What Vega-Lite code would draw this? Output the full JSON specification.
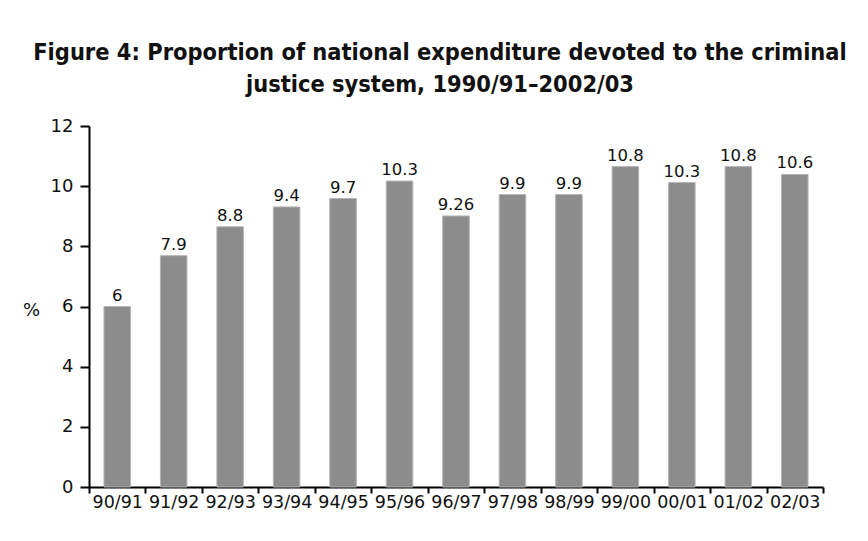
{
  "$schema": "https://vega.github.io/schema/vega-lite/v6.json",
  "autosize": "none",
  "width": 734,
  "height": 361,
  "padding": {"left": 89, "top": 126, "right": 45, "bottom": 54},
  "background": "white",
  "title": {
    "text": ["Figure 4: Proportion of national expenditure devoted to  the criminal", "justice system, 1990/91–2002/03"],
    "font": "DejaVu Sans Condensed, Liberation Sans",
    "fontSize": 23.4,
    "fontWeight": "bold",
    "color": "#111111",
    "lineHeight": 32,
    "anchor": "middle",
    "frame": "group",
    "dx": -16,
    "offset": 20
  },
  "data": {
    "values": [
      {"year": "90/91", "value": 6.0, "label": "6"},
      {"year": "91/92", "value": 7.69, "label": "7.9"},
      {"year": "92/93", "value": 8.65, "label": "8.8"},
      {"year": "93/94", "value": 9.31, "label": "9.4"},
      {"year": "94/95", "value": 9.59, "label": "9.7"},
      {"year": "95/96", "value": 10.17, "label": "10.3"},
      {"year": "96/97", "value": 9.01, "label": "9.26"},
      {"year": "97/98", "value": 9.72, "label": "9.9"},
      {"year": "98/99", "value": 9.72, "label": "9.9"},
      {"year": "99/00", "value": 10.65, "label": "10.8"},
      {"year": "00/01", "value": 10.12, "label": "10.3"},
      {"year": "01/02", "value": 10.65, "label": "10.8"},
      {"year": "02/03", "value": 10.39, "label": "10.6"}
    ]
  },
  "encoding": {
    "x": {
      "field": "year",
      "type": "nominal",
      "sort": null,
      "scale": {"paddingInner": 0, "paddingOuter": 0},
      "axis": {
        "title": null,
        "labelAngle": 0,
        "labelFont": "DejaVu Sans",
        "labelFontSize": 17.5,
        "labelColor": "#111111",
        "labelPadding": 0,
        "tickBand": "extent",
        "tickSize": 6,
        "tickWidth": 2,
        "tickColor": "#000000",
        "domainColor": "#000000",
        "domainWidth": 2
      }
    },
    "y": {
      "field": "value",
      "type": "quantitative",
      "scale": {"domain": [0, 12], "nice": false},
      "axis": {
        "values": [0, 2, 4, 6, 8, 10, 12],
        "grid": false,
        "title": "%",
        "titleAngle": 0,
        "titleFont": "DejaVu Sans",
        "titleFontSize": 18,
        "titleFontWeight": "normal",
        "titleColor": "#111111",
        "titleX": -58,
        "titleY": 184,
        "titleAlign": "center",
        "titleBaseline": "middle",
        "labelFont": "DejaVu Sans",
        "labelFontSize": 18,
        "labelColor": "#111111",
        "labelPadding": 7,
        "tickSize": 9,
        "tickWidth": 2,
        "tickColor": "#000000",
        "domainColor": "#000000",
        "domainWidth": 2
      }
    }
  },
  "layer": [
    {
      "mark": {"type": "bar", "color": "#8c8c8c", "stroke": "#b4b4b4", "strokeWidth": 1, "width": {"band": 0.47}}
    },
    {
      "mark": {"type": "text", "font": "DejaVu Sans", "fontSize": 16.5, "color": "#111111", "baseline": "alphabetic", "dy": -6},
      "encoding": {"text": {"field": "label"}}
    }
  ],
  "config": {"view": {"stroke": null}}
}
